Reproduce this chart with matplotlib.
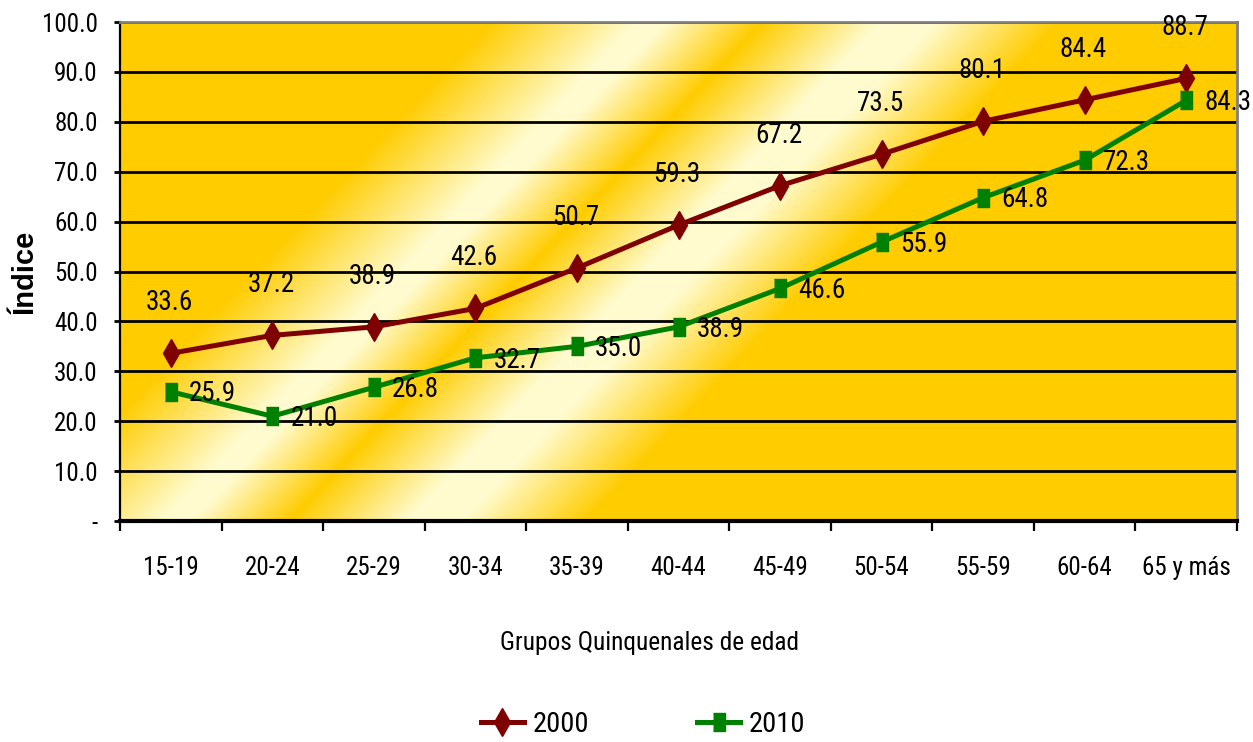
import numpy as np
import matplotlib
matplotlib.use("Agg")
import matplotlib.pyplot as plt
from matplotlib.lines import Line2D
from matplotlib import font_manager

installed = {f.name for f in font_manager.fontManager.ttflist}
narrow = None
for cand in ['Liberation Sans Narrow', 'Arial Narrow', 'Roboto Condensed',
             'Open Sans Condensed', 'Nimbus Sans Narrow']:
    if cand in installed:
        narrow = cand
        break
base_font = narrow if narrow else 'Liberation Sans'
k = 1.0 if narrow else 0.87   # regular-width fallback drawn a bit smaller
plt.rcParams['font.family'] = [base_font, 'DejaVu Sans']

categories = ["15-19", "20-24", "25-29", "30-34", "35-39", "40-44",
              "45-49", "50-54", "55-59", "60-64", "65 y más"]
serie_2000 = [33.6, 37.2, 38.9, 42.6, 50.7, 59.3, 67.2, 73.5, 80.1, 84.4, 88.7]
serie_2010 = [25.9, 21.0, 26.8, 32.7, 35.0, 38.9, 46.6, 55.9, 64.8, 72.3, 84.3]
y_ticks = [0, 10, 20, 30, 40, 50, 60, 70, 80, 90, 100]

W_PX, H_PX = 1253, 742
fig = plt.figure(figsize=(W_PX / 100, H_PX / 100), dpi=100)
fig.patch.set_facecolor('white')

ax_l, ax_r, ax_t, ax_b = 120, 1237, 22, 521
ax = fig.add_axes([ax_l / W_PX, 1 - ax_b / H_PX, (ax_r - ax_l) / W_PX, (ax_b - ax_t) / H_PX])

x = np.arange(len(categories))
ax.set_xlim(-0.5, len(categories) - 0.5)
ax.set_ylim(0, 100)

# background diagonal gradient (decoration)
Hh, Ww = ax_b - ax_t, ax_r - ax_l
yy, xx = np.mgrid[0:Hh, 0:Ww]
s = (xx + ax_l) + 0.95 * yy
stop_s = [0, 490, 635, 665, 762, 880, 935, 1060, 3000]
stop_t = [0, 0, 1, 1, 0, 1, 1, 0, 0]
t = np.interp(s, stop_s, stop_t)
gold = np.array([255, 204, 0]) / 255
pale = np.array([255, 251, 206]) / 255
img = gold[None, None, :] + t[..., None] * (pale - gold)[None, None, :]
ax.imshow(img, extent=(-0.5, len(categories) - 0.5, 0, 100), origin='upper',
          aspect='auto', zorder=0, interpolation='bilinear')

# grid and ticks
ax.set_yticks(y_ticks)
ax.set_yticklabels(['-' if v == 0 else f"{v:.1f}" for v in y_ticks], fontsize=18 * k)
ax.yaxis.grid(True, color='black', linewidth=2.0, zorder=1)
ax.set_axisbelow(True)

ax.set_xticks(x)
ax.set_xticklabels(categories, fontsize=18 * k)
ax.set_xticks(np.arange(-0.5, len(categories), 1), minor=True)
ax.tick_params(axis='x', which='major', length=0, pad=25)
ax.tick_params(axis='x', which='minor', length=7, width=1.6, direction='out', color='black')
ax.tick_params(axis='y', which='major', length=4, width=2, direction='out', pad=12)

for side in ['left', 'bottom']:
    ax.spines[side].set_color('black')
ax.spines['left'].set_linewidth(1.6)
ax.spines['bottom'].set_linewidth(3)
for side in ['top', 'right']:
    ax.spines[side].set_color('#808080')
    ax.spines[side].set_linewidth(2)
for sp in ax.spines.values():
    sp.set_zorder(5)

rect_marker = [(-0.35, -0.5), (0.35, -0.5), (0.35, 0.5), (-0.35, 0.5)]
c2000 = '#7F0000'
c2010 = '#008000'
ax.plot(x, serie_2000, color=c2000, linewidth=3.6, marker='d', markersize=14,
        markeredgecolor=c2000, markerfacecolor=c2000, zorder=4, clip_on=False)
ax.plot(x, serie_2010, color=c2010, linewidth=3.6, marker=rect_marker, markersize=13,
        markeredgecolor=c2010, markerfacecolor=c2010, zorder=4, clip_on=False)

for xi, v in zip(x, serie_2000):
    ax.annotate(f"{v:.1f}", (xi, v), xytext=(-1, 31), textcoords='offset points',
                ha='center', va='baseline', fontsize=19.5 * k, color='black',
                annotation_clip=False, zorder=6)
for xi, v in zip(x, serie_2010):
    ax.annotate(f"{v:.1f}", (xi, v), xytext=(13, -7), textcoords='offset points',
                ha='left', va='baseline', fontsize=19.5 * k, color='black',
                annotation_clip=False, zorder=6)

ax.set_xlabel("Grupos Quinquenales de edad", fontsize=18.3 * k, va='center')
ax.xaxis.set_label_coords((649 - ax_l) / (ax_r - ax_l), (ax_b - 643) / (ax_b - ax_t))
ax.set_ylabel("Índice", fontsize=21, fontweight='bold',
              family=['Liberation Sans', 'DejaVu Sans'], va='center')
ax.yaxis.set_label_coords((25 - ax_l) / (ax_r - ax_l), 0.5)

handles = [
    Line2D([], [], color=c2000, linewidth=3.6, marker='d', markersize=14,
           markerfacecolor=c2000, markeredgecolor=c2000),
    Line2D([], [], color=c2010, linewidth=3.6, marker=rect_marker, markersize=13,
           markerfacecolor=c2010, markeredgecolor=c2010),
]
leg_fs = 20.5 * k
fig.legend(handles, ["2000", "2010"], loc='center',
           bbox_to_anchor=(643 / W_PX, 1 - 724 / H_PX), ncol=2, frameon=False,
           fontsize=leg_fs, handlelength=31 / leg_fs, handletextpad=6 / leg_fs,
           columnspacing=78 / leg_fs)

fig.savefig("out.png", dpi=100)
